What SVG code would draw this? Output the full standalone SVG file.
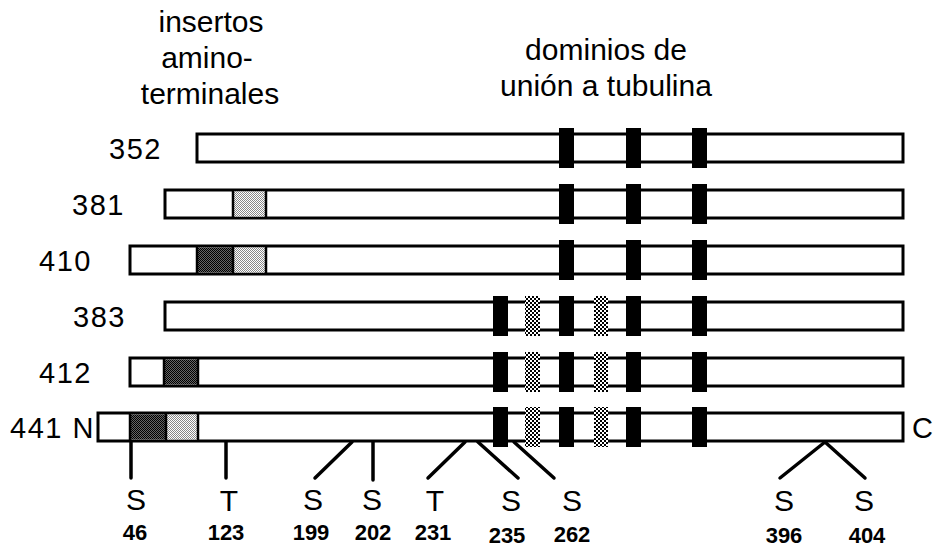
<svg xmlns="http://www.w3.org/2000/svg" width="934" height="548" viewBox="0 0 934 548">
<style>
  .t{font-family:"Liberation Sans",Arial,sans-serif;fill:#000}
  .title{font-size:30px;text-anchor:middle}
  .lab{font-size:29px;text-anchor:end;letter-spacing:1.5px}
  .res{font-size:30px;text-anchor:middle}
  .num{font-size:22px;font-weight:bold;text-anchor:middle}
  .box{fill:#fff;stroke:#000;stroke-width:3}
  .sep{stroke:#000;stroke-width:2.5}
  .bar{fill:#000}
  .sbar{fill:url(#st)}
  .dk{fill:url(#dk)}
  .lt{fill:url(#lt)}
  .ln{stroke:#000;stroke-width:3.5;stroke-linecap:round;fill:none}
</style>
<defs>
  <pattern id="dk" width="2" height="2" patternUnits="userSpaceOnUse">
    <rect width="2" height="2" fill="#666"/>
    <rect width="1" height="1" fill="#000"/>
    <rect x="1" y="1" width="1" height="1" fill="#000"/>
  </pattern>
  <pattern id="lt" width="2" height="2" patternUnits="userSpaceOnUse">
    <rect width="2" height="2" fill="#fff"/>
    <rect width="1" height="1" fill="#888"/>
    <rect x="1" y="1" width="1" height="1" fill="#888"/>
  </pattern>
  <pattern id="st" width="4" height="4" patternUnits="userSpaceOnUse">
    <rect width="4" height="4" fill="#fff"/>
    <rect width="2" height="2" fill="#000"/>
    <rect x="2" y="2" width="2" height="2" fill="#000"/>
  </pattern>
</defs>

<g id="titles">
  <text class="t title" x="211" y="32">insertos</text>
  <text class="t title" x="207" y="68">amino-</text>
  <text class="t title" x="210" y="104">terminales</text>
  <text class="t title" x="606" y="60">dominios de</text>
  <text class="t title" x="606" y="96">unión a tubulina</text>
</g>

<g id="row352">
  <text class="t lab" x="162" y="159">352</text>
  <rect class="box" x="197" y="134" width="706" height="28"/>
  <rect class="bar" x="559" y="128" width="15" height="40"/>
  <rect class="bar" x="626" y="128" width="15" height="40"/>
  <rect class="bar" x="692" y="128" width="15" height="40"/>
</g>

<g id="row381">
  <text class="t lab" x="125" y="215">381</text>
  <rect class="box" x="165" y="190" width="738" height="28"/>
  <rect class="lt" x="233" y="191.5" width="33" height="25"/>
  <line class="sep" x1="233" y1="190" x2="233" y2="218"/>
  <line class="sep" x1="266" y1="190" x2="266" y2="218"/>
  <rect class="bar" x="559" y="184" width="15" height="40"/>
  <rect class="bar" x="626" y="184" width="15" height="40"/>
  <rect class="bar" x="692" y="184" width="15" height="40"/>
</g>

<g id="row410">
  <text class="t lab" x="92" y="271">410</text>
  <rect class="box" x="130" y="246" width="773" height="28"/>
  <rect class="dk" x="197" y="247.5" width="36" height="25"/>
  <rect class="lt" x="233" y="247.5" width="33" height="25"/>
  <line class="sep" x1="197" y1="246" x2="197" y2="274"/>
  <line class="sep" x1="233" y1="246" x2="233" y2="274"/>
  <line class="sep" x1="266" y1="246" x2="266" y2="274"/>
  <rect class="bar" x="559" y="240" width="15" height="40"/>
  <rect class="bar" x="626" y="240" width="15" height="40"/>
  <rect class="bar" x="692" y="240" width="15" height="40"/>
</g>

<g id="row383">
  <text class="t lab" x="126" y="327">383</text>
  <rect class="box" x="165" y="302" width="738" height="28"/>
  <rect class="bar" x="493" y="296" width="15" height="40"/>
  <rect class="sbar" x="525" y="296" width="15" height="40"/>
  <rect class="bar" x="559" y="296" width="15" height="40"/>
  <rect class="sbar" x="594" y="296" width="14" height="40"/>
  <rect class="bar" x="626" y="296" width="15" height="40"/>
  <rect class="bar" x="692" y="296" width="15" height="40"/>
</g>

<g id="row412">
  <text class="t lab" x="92" y="383">412</text>
  <rect class="box" x="130" y="358" width="773" height="28"/>
  <rect class="dk" x="164" y="359.5" width="34" height="25"/>
  <line class="sep" x1="164" y1="358" x2="164" y2="386"/>
  <line class="sep" x1="198" y1="358" x2="198" y2="386"/>
  <rect class="bar" x="493" y="352" width="15" height="40"/>
  <rect class="sbar" x="525" y="352" width="15" height="40"/>
  <rect class="bar" x="559" y="352" width="15" height="40"/>
  <rect class="sbar" x="594" y="352" width="14" height="40"/>
  <rect class="bar" x="626" y="352" width="15" height="40"/>
  <rect class="bar" x="692" y="352" width="15" height="40"/>
</g>

<g id="row441">
  <text class="t lab" x="95" y="438">441 N</text>
  <rect class="box" x="98" y="413" width="805" height="28"/>
  <rect class="dk" x="130" y="414.5" width="36" height="25"/>
  <rect class="lt" x="166" y="414.5" width="32" height="25"/>
  <line class="sep" x1="130" y1="413" x2="130" y2="441"/>
  <line class="sep" x1="166" y1="413" x2="166" y2="441"/>
  <line class="sep" x1="198" y1="413" x2="198" y2="441"/>
  <rect class="bar" x="493" y="407" width="15" height="40"/>
  <rect class="sbar" x="525" y="407" width="15" height="40"/>
  <rect class="bar" x="559" y="407" width="15" height="40"/>
  <rect class="sbar" x="594" y="407" width="14" height="40"/>
  <rect class="bar" x="626" y="407" width="15" height="40"/>
  <rect class="bar" x="692" y="407" width="15" height="40"/>
  <text class="t" x="912" y="438" style="font-size:29px">C</text>
</g>

<g id="connectors">
  <line class="ln" x1="131" y1="442" x2="131" y2="478"/>
  <line class="ln" x1="226" y1="442" x2="226" y2="478"/>
  <line class="ln" x1="352" y1="442" x2="315" y2="478"/>
  <line class="ln" x1="373" y1="442" x2="373" y2="480"/>
  <line class="ln" x1="465" y1="442" x2="428" y2="478"/>
  <line class="ln" x1="478" y1="442" x2="518" y2="478"/>
  <line class="ln" x1="514" y1="442" x2="554" y2="478"/>
  <line class="ln" x1="825" y1="442" x2="780" y2="478"/>
  <line class="ln" x1="825" y1="442" x2="865" y2="478"/>
</g>

<g id="sites">
  <text class="t res" x="136" y="510">S</text>
  <text class="t res" x="229" y="511">T</text>
  <text class="t res" x="313" y="510">S</text>
  <text class="t res" x="372" y="510">S</text>
  <text class="t res" x="435" y="511">T</text>
  <text class="t res" x="511" y="511">S</text>
  <text class="t res" x="572" y="511">S</text>
  <text class="t res" x="784" y="511">S</text>
  <text class="t res" x="864" y="511">S</text>
  <text class="t num" x="135" y="540">46</text>
  <text class="t num" x="226" y="540">123</text>
  <text class="t num" x="311" y="540">199</text>
  <text class="t num" x="373" y="540">202</text>
  <text class="t num" x="433" y="540">231</text>
  <text class="t num" x="507" y="543">235</text>
  <text class="t num" x="572" y="542">262</text>
  <text class="t num" x="784" y="543">396</text>
  <text class="t num" x="867" y="543">404</text>
</g>
</svg>
